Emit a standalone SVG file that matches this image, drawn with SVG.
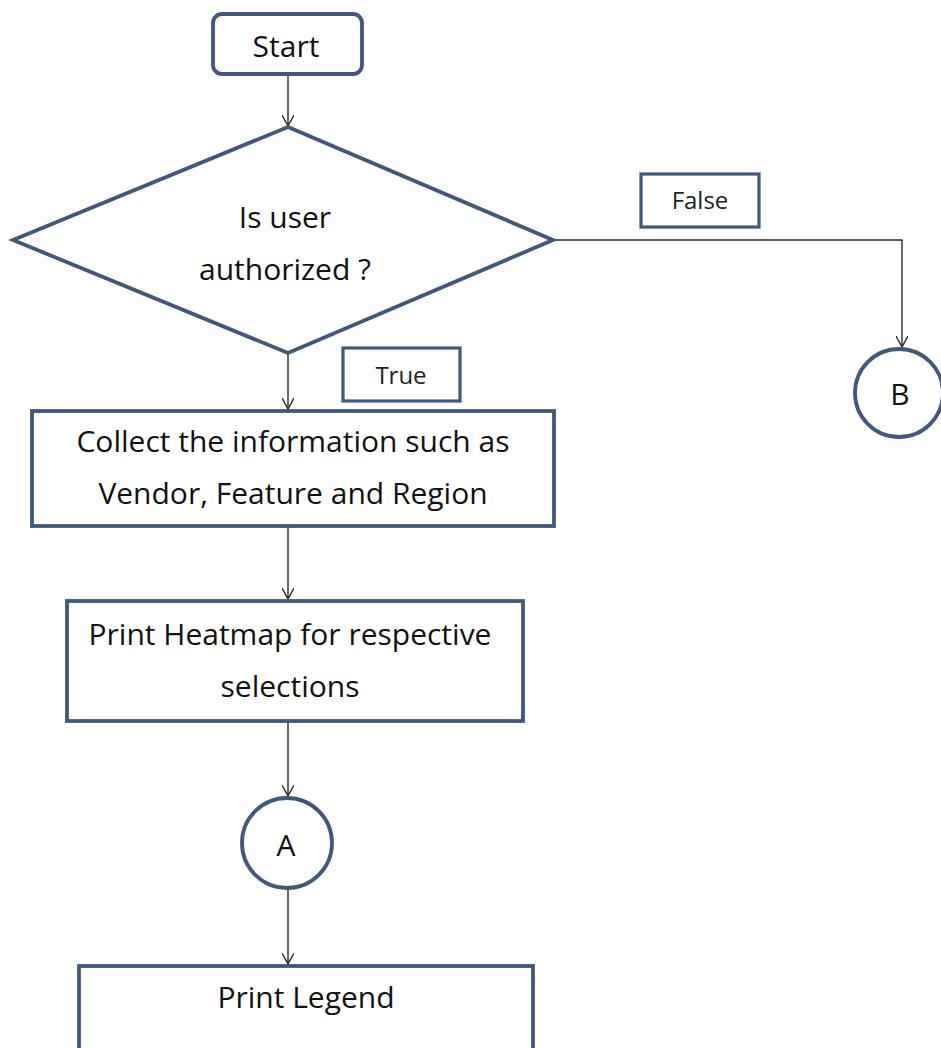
<svg xmlns="http://www.w3.org/2000/svg" width="941" height="1048" viewBox="0 0 941 1048">
<defs>
<style>
.n{fill:#fff;stroke:#41587a;stroke-width:3.8}
.l{fill:#fff;stroke:#41587a;stroke-width:3.2}
.t{font-family:"Open Sans","Liberation Sans",sans-serif;font-size:30px;fill:#111;text-anchor:middle}
.s{font-family:"Open Sans","Liberation Sans",sans-serif;font-size:24px;fill:#222;text-anchor:middle}
.c{fill:none;stroke:#2a2a2a;stroke-width:1.4}
</style>
<marker id="ah" viewBox="0 0 12 12" refX="11" refY="6" markerWidth="12" markerHeight="12" markerUnits="userSpaceOnUse" orient="auto">
<path d="M0,0 L11,6 L0,12" fill="none" stroke="#2a2a2a" stroke-width="1.4"/>
</marker>
</defs>
<rect width="941" height="1048" fill="#fff"/>
<g id="connectors">
<line class="c" x1="288" y1="75" x2="288" y2="126" marker-end="url(#ah)"/>
<polyline class="c" points="553,240 902,240 902,347" marker-end="url(#ah)"/>
<line class="c" x1="288" y1="353" x2="288" y2="409" marker-end="url(#ah)"/>
<line class="c" x1="288" y1="527" x2="288" y2="599" marker-end="url(#ah)"/>
<line class="c" x1="288" y1="722" x2="288" y2="796" marker-end="url(#ah)"/>
<line class="c" x1="288" y1="889" x2="288" y2="964" marker-end="url(#ah)"/>
</g>
<g id="start">
<rect class="n" x="213" y="14" width="149" height="60" rx="9"/>
<text class="t" x="286" y="57">Start</text>
</g>
<g id="decision">
<polygon class="n" points="288,127 553,240 288,353 13,240"/>
<text class="t" x="285" y="228">Is user</text>
<text class="t" x="285" y="280">authorized ?</text>
</g>
<g id="false-label">
<rect class="l" x="641" y="174" width="118" height="53"/>
<text class="s" x="700" y="209">False</text>
</g>
<g id="true-label">
<rect class="l" x="343" y="348" width="117" height="53"/>
<text class="s" x="401" y="384">True</text>
</g>
<g id="connector-b">
<circle class="n" cx="899" cy="393" r="44"/>
<text class="t" x="900" y="405">B</text>
</g>
<g id="collect">
<rect class="n" x="32" y="411" width="522" height="115"/>
<text class="t" x="293" y="452">Collect the information such as</text>
<text class="t" x="293" y="504">Vendor, Feature and Region</text>
</g>
<g id="heatmap">
<rect class="n" x="67" y="601" width="456" height="120"/>
<text class="t" x="290" y="645">Print Heatmap for respective</text>
<text class="t" x="290" y="697">selections</text>
</g>
<g id="connector-a">
<circle class="n" cx="287" cy="843" r="45"/>
<text class="t" x="286" y="856">A</text>
</g>
<g id="legend">
<rect class="n" x="79" y="966" width="454" height="100"/>
<text class="t" x="306" y="1008">Print Legend</text>
</g>
</svg>
